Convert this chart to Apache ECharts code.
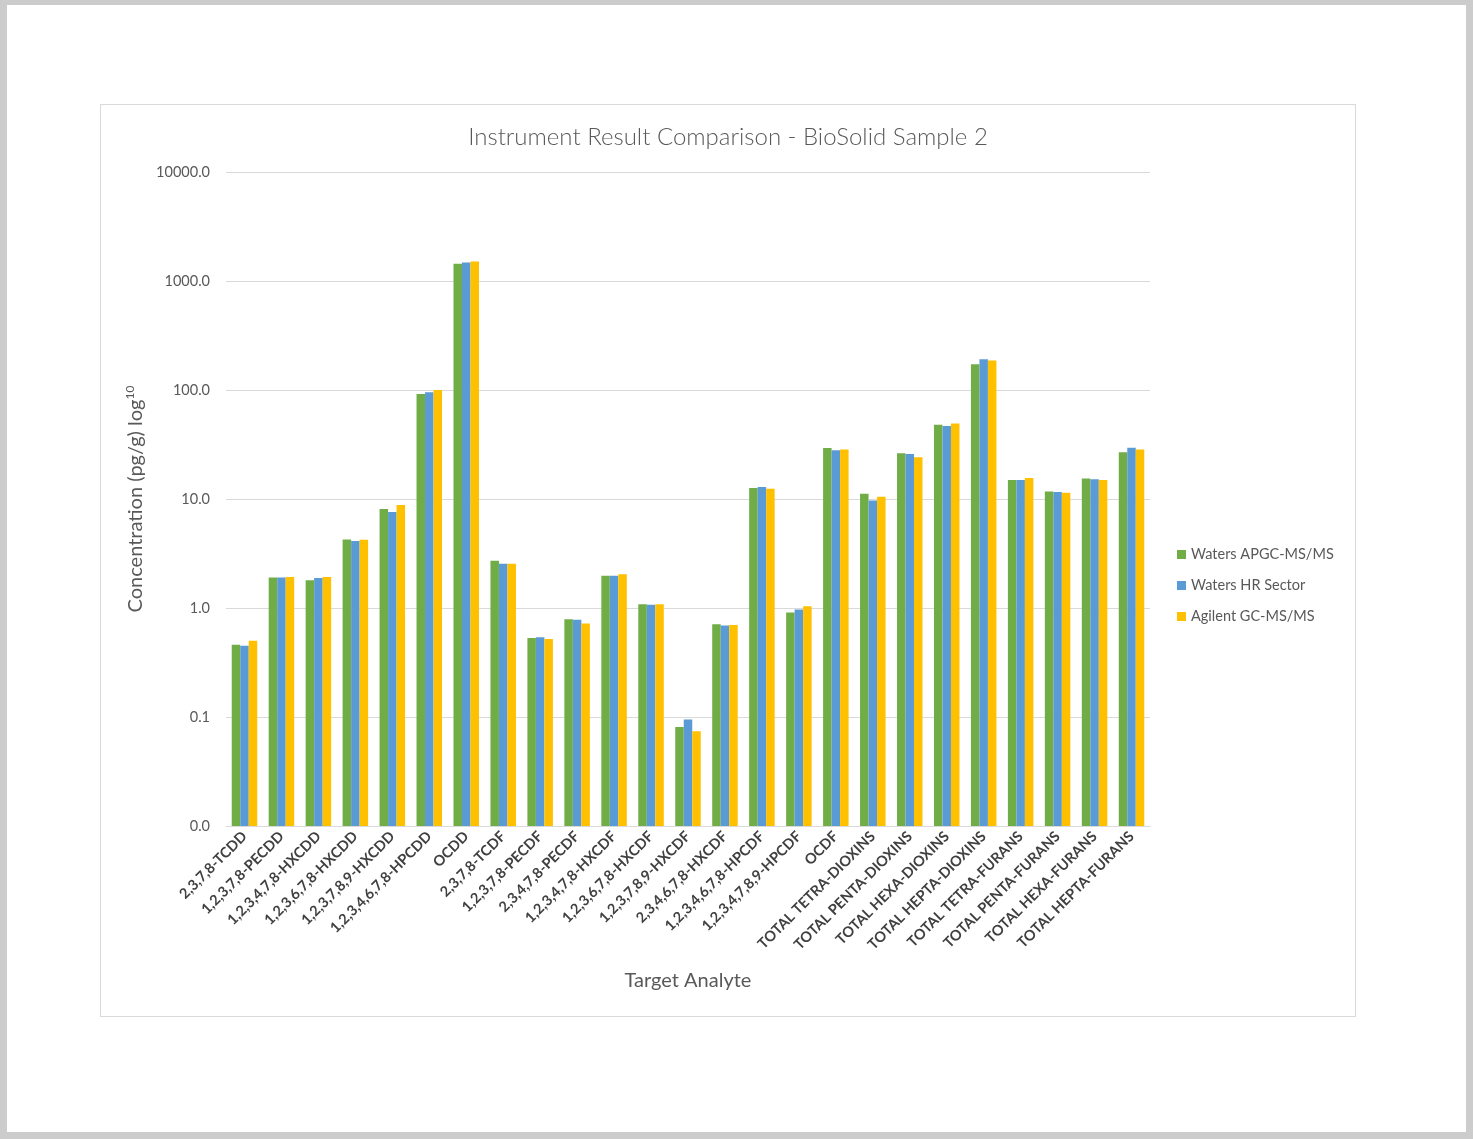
<!DOCTYPE html>
<html>
<head>
<meta charset="utf-8">
<title>Instrument Result Comparison - BioSolid Sample 2</title>
<script src="https://cdn.jsdelivr.net/npm/echarts@6/dist/echarts.min.js"></script>
<style>
  html, body { margin: 0; padding: 0; }
  body { width: 1473px; height: 1139px; background: #cccccc; position: relative; overflow: hidden; }
  #page { position: absolute; left: 7px; top: 5px; width: 1459px; height: 1127px; background: #ffffff; }
  #box { position: absolute; left: 100px; top: 104px; width: 1254px; height: 911px; border: 1px solid #d9d9d9; background: #ffffff; }
  #chart { width: 1254px; height: 911px; }
</style>
</head>
<body>
<div id="page"></div>
<div id="box"><div id="chart"></div></div>
<script>
// Target analytes along the x axis
const analytes = [
  '2,3,7,8-TCDD', '1,2,3,7,8-PECDD', '1,2,3,4,7,8-HXCDD', '1,2,3,6,7,8-HXCDD',
  '1,2,3,7,8,9-HXCDD', '1,2,3,4,6,7,8-HPCDD', 'OCDD', '2,3,7,8-TCDF',
  '1,2,3,7,8-PECDF', '2,3,4,7,8-PECDF', '1,2,3,4,7,8-HXCDF', '1,2,3,6,7,8-HXCDF',
  '1,2,3,7,8,9-HXCDF', '2,3,4,6,7,8-HXCDF', '1,2,3,4,6,7,8-HPCDF', '1,2,3,4,7,8,9-HPCDF',
  'OCDF', 'TOTAL TETRA-DIOXINS', 'TOTAL PENTA-DIOXINS', 'TOTAL HEXA-DIOXINS',
  'TOTAL HEPTA-DIOXINS', 'TOTAL TETRA-FURANS', 'TOTAL PENTA-FURANS', 'TOTAL HEXA-FURANS',
  'TOTAL HEPTA-FURANS'
];

// Concentrations in pg/g
const watersApgc = [
  0.46, 1.90, 1.80, 4.26, 8.1, 92, 1440, 2.72,
  0.53, 0.79, 1.98, 1.08, 0.081, 0.71, 12.6, 0.91,
  29.3, 11.2, 26.3, 48.1, 172, 14.9, 11.7, 15.4, 26.9
];
const watersHr = [
  0.45, 1.90, 1.88, 4.11, 7.6, 95.5, 1480, 2.55,
  0.54, 0.78, 1.98, 1.07, 0.095, 0.69, 12.9, 0.97,
  28.0, 9.7, 25.9, 46.8, 191, 14.9, 11.6, 15.2, 29.6
];
const agilentGc = [
  0.50, 1.92, 1.92, 4.22, 8.8, 100, 1510, 2.55,
  0.52, 0.72, 2.04, 1.08, 0.074, 0.70, 12.4, 1.04,
  28.4, 10.5, 24.2, 49.2, 186, 15.6, 11.4, 14.9, 28.4
];

const seriesNames = ['Waters APGC-MS/MS', 'Waters HR Sector', 'Agilent GC-MS/MS'];
const seriesColors = ['#70ad47', '#5b9bd5', '#ffc000'];
const seriesValues = [watersApgc, watersHr, agilentGc];

const textFont = 'Lato, "Open Sans", sans-serif';

const chart = echarts.init(document.getElementById('chart'), null, { renderer: 'canvas' });

chart.setOption({
  animation: false,
  backgroundColor: '#ffffff',
  textStyle: { fontFamily: textFont },
  title: {
    text: 'Instrument Result Comparison - BioSolid Sample 2',
    left: 'center',
    top: 15,
    textStyle: { fontFamily: textFont, fontSize: 24, fontWeight: 300, color: '#595959' }
  },
  legend: {
    orient: 'vertical',
    left: 1071,
    top: 437,
    icon: 'rect',
    itemWidth: 9,
    itemHeight: 9,
    itemGap: 16,
    itemStyle: { borderWidth: 0 },
    textStyle: { fontFamily: textFont, fontSize: 14.5, color: '#595959' },
    data: seriesNames
  },
  grid: { left: 125, top: 67, width: 924, height: 654, containLabel: false },
  xAxis: {
    type: 'category',
    data: analytes,
    name: 'Target Analyte',
    nameLocation: 'middle',
    nameGap: 145,
    nameTextStyle: { fontFamily: textFont, fontSize: 20, color: '#595959' },
    axisLine: { show: true, lineStyle: { color: '#d9d9d9', width: 1 } },
    axisTick: { show: false },
    axisLabel: {
      interval: 0,
      rotate: 45,
      margin: 8,
      fontFamily: textFont,
      fontSize: 14.5,
      fontWeight: 'bold',
      color: '#404040'
    },
    splitLine: { show: false }
  },
  yAxis: {
    type: 'log',
    logBase: 10,
    min: 0.01,
    max: 10000,
    startValue: 0.01,
    splitNumber: 6,
    name: '{main|Concentration (pg/g) log}{sup|10}',
    nameLocation: 'middle',
    nameRotate: 90,
    nameGap: 79,
    nameTextStyle: {
      color: '#595959',
      rich: {
        main: { fontFamily: textFont, fontSize: 20, color: '#595959' },
        sup: { fontFamily: textFont, fontSize: 12, color: '#595959', verticalAlign: 'top', padding: [0, 0, 11, 0] }
      }
    },
    axisLine: { show: false },
    axisTick: { show: false },
    axisLabel: {
      margin: 16,
      fontFamily: textFont,
      fontSize: 14.5,
      color: '#595959',
      formatter: function (v) { return Number(v).toFixed(1); }
    },
    splitLine: { show: true, lineStyle: { color: '#d9d9d9', width: 1 } }
  },
  series: seriesNames.map(function (name, i) {
    return {
      name: name,
      type: 'bar',
      data: seriesValues[i],
      barGap: '0%',
      barCategoryGap: '31%',
      itemStyle: { color: seriesColors[i] }
    };
  })
});
</script>
</body>
</html>
